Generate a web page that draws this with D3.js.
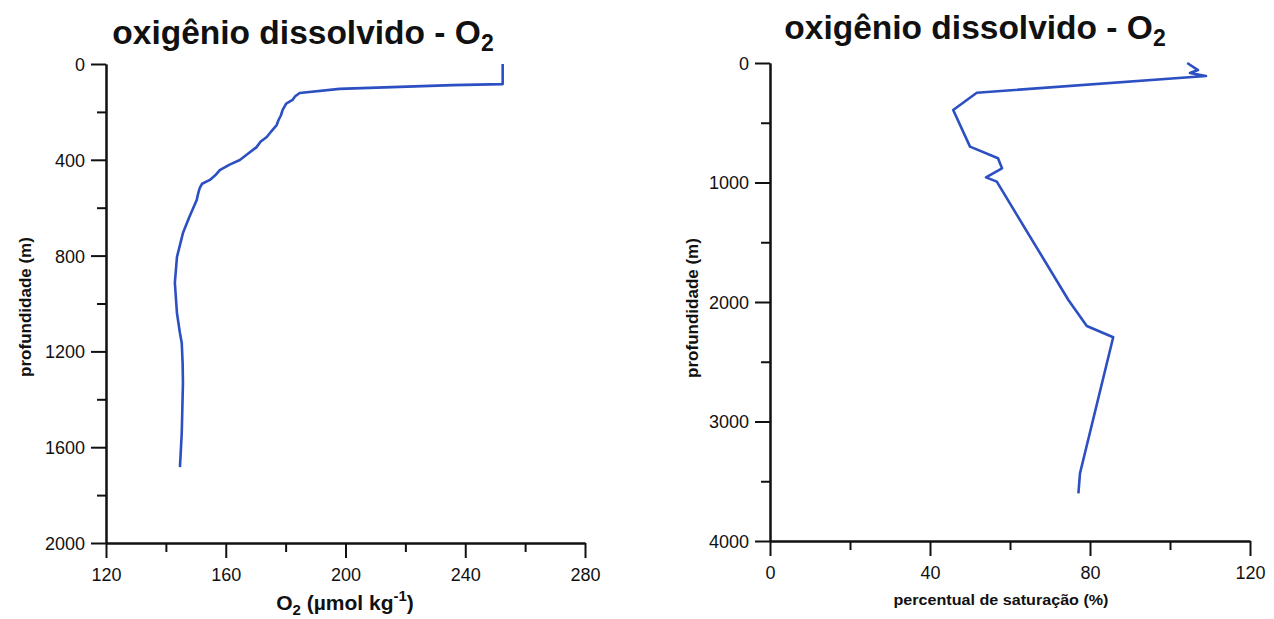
<!DOCTYPE html>
<html>
<head>
<meta charset="utf-8">
<script src="https://cdn.jsdelivr.net/npm/d3@7"></script>
<style>
  body { margin: 0; background: #fff; }
  text { font-family: "Liberation Sans", Arial, sans-serif; }
</style>
</head>
<body>
<div class="display"></div>
<script>
// perfil de O2 (umol/kg) x profundidade (m)
var o2Depth = [0, 84, 88, 104, 121, 135, 150, 165, 192, 215, 235, 255, 280, 305, 325, 347, 375, 401, 420, 443, 465, 484, 500, 518, 540, 568, 640, 706, 806, 914, 1040, 1123, 1165, 1250, 1332, 1440, 1541, 1683];
var o2Value = [252.5, 252.5, 235.7, 198, 184.7, 183.2, 182.3, 180.2, 179, 178.4, 177.6, 177, 175.3, 173.7, 171.6, 170.3, 167.4, 164.7, 161.3, 158, 156.5, 154.7, 152.1, 151.3, 150.8, 150.3, 147.8, 145.7, 143.7, 143, 143.7, 144.7, 145.3, 145.6, 145.7, 145.5, 145.3, 144.7];

// percentual de saturacao (%) x profundidade (m)
var satDepth = [0, 59, 84, 109, 249, 393, 700, 797, 881, 957, 993, 1983, 2201, 2295, 3433, 3601];
var satValue = [104.3, 107, 105, 109, 51.7, 45.8, 50, 57, 58, 54, 56.7, 74.6, 79.2, 85.8, 77.5, 77.1];

var o2Ticks = [120, 160, 200, 240, 280];
var o2Minor = [140, 180, 220, 260];
var o2DepthTicks = [0, 400, 800, 1200, 1600, 2000];
var o2DepthMinor = [200, 600, 1000, 1400, 1800];
var satTicks = [0, 40, 80, 120];
var satMinor = [20, 60, 100];
var satDepthTicks = [0, 1000, 2000, 3000, 4000];
var satDepthMinor = [500, 1500, 2500, 3500];

var lineColor = "#2c4fc2";

var svg = d3.select(".display")
  .append("svg")
  .attr("width", 1274)
  .attr("height", 619);

function drawPanel(opts) {
  var x = d3.scaleLinear().domain(opts.xDomain).range([opts.left, opts.right]);
  var y = d3.scaleLinear().domain(opts.yDomain).range([opts.top, opts.bottom]);

  var g = svg.append("g");

  // minor ticks
  g.append("g")
    .attr("transform", "translate(0," + opts.bottom + ")")
    .call(d3.axisBottom(x).tickValues(opts.xMinor).tickSize(9).tickSizeOuter(0).tickFormat(""));
  g.append("g")
    .attr("transform", "translate(" + opts.left + ",0)")
    .call(d3.axisLeft(y).tickValues(opts.yMinor).tickSize(9).tickSizeOuter(0).tickFormat(""));

  // major ticks
  var xa = g.append("g")
    .attr("transform", "translate(0," + opts.bottom + ")")
    .call(d3.axisBottom(x).tickValues(opts.xTicks).tickSize(15).tickSizeOuter(0).tickPadding(10).tickFormat(d3.format("d")));
  var ya = g.append("g")
    .attr("transform", "translate(" + opts.left + ",0)")
    .call(d3.axisLeft(y).tickValues(opts.yTicks).tickSize(15).tickSizeOuter(0).tickPadding(6).tickFormat(d3.format("d")));

  g.selectAll(".domain, .tick line").attr("stroke", "#111").attr("stroke-width", 2);
  g.selectAll(".tick text").attr("font-size", 18).attr("fill", "#111")
    .style("font-family", "'Liberation Sans', Arial, sans-serif");
  ya.selectAll(".tick text").attr("dy", "0.36em");

  var line = d3.line()
    .x(function(d) { return x(d[1]); })
    .y(function(d) { return y(d[0]); });

  g.append("path")
    .datum(d3.zip(opts.depth, opts.values))
    .attr("fill", "none")
    .attr("stroke", lineColor)
    .attr("stroke-width", 2.6)
    .attr("stroke-linejoin", "round")
    .attr("d", line);

  // title
  var t = g.append("text")
    .attr("x", opts.titleX)
    .attr("y", opts.titleY)
    .attr("text-anchor", "middle")
    .attr("font-weight", "bold")
    .attr("font-size", 33.5)
    .attr("fill", "#111");
  t.append("tspan").text("oxigênio dissolvido - O");
  t.append("tspan").attr("font-size", 23).attr("dy", 7).text("2");

  // y label
  g.append("text")
    .attr("transform", "translate(" + opts.yLabelX + "," + opts.yLabelY + ") rotate(-90)")
    .attr("text-anchor", "middle")
    .attr("font-weight", "bold")
    .attr("font-size", 17)
    .attr("fill", "#111")
    .text("profundidade (m)");

  return g;
}

var left = drawPanel({
  xDomain: [120, 280], yDomain: [0, 2000],
  left: 106, right: 585, top: 64, bottom: 543,
  xTicks: o2Ticks, xMinor: o2Minor, yTicks: o2DepthTicks, yMinor: o2DepthMinor,
  depth: o2Depth, values: o2Value,
  titleX: 303, titleY: 44, yLabelX: 31, yLabelY: 307
});

var right = drawPanel({
  xDomain: [0, 120], yDomain: [0, 4000],
  left: 770, right: 1250, top: 63, bottom: 541,
  xTicks: satTicks, xMinor: satMinor, yTicks: satDepthTicks, yMinor: satDepthMinor,
  depth: satDepth, values: satValue,
  titleX: 975, titleY: 39, yLabelX: 698, yLabelY: 308
});

// x labels
var xl = left.append("text")
  .attr("x", 345)
  .attr("y", 610)
  .attr("text-anchor", "middle")
  .attr("font-weight", "bold")
  .attr("font-size", 21)
  .attr("fill", "#111");
xl.append("tspan").text("O");
xl.append("tspan").attr("font-size", 15).attr("dy", 5).text("2");
xl.append("tspan").attr("dy", -5).text(" (\u00b5mol kg");
xl.append("tspan").attr("font-size", 15).attr("dy", -9).text("-1");
xl.append("tspan").attr("dy", 9).text(")");

right.append("text")
  .attr("x", 1001)
  .attr("y", 605)
  .attr("text-anchor", "middle")
  .attr("font-weight", "bold")
  .attr("font-size", 14)
  .attr("textLength", 215)
  .attr("lengthAdjust", "spacingAndGlyphs")
  .attr("fill", "#111")
  .text("percentual de saturação (%)");
</script>
</body>
</html>
